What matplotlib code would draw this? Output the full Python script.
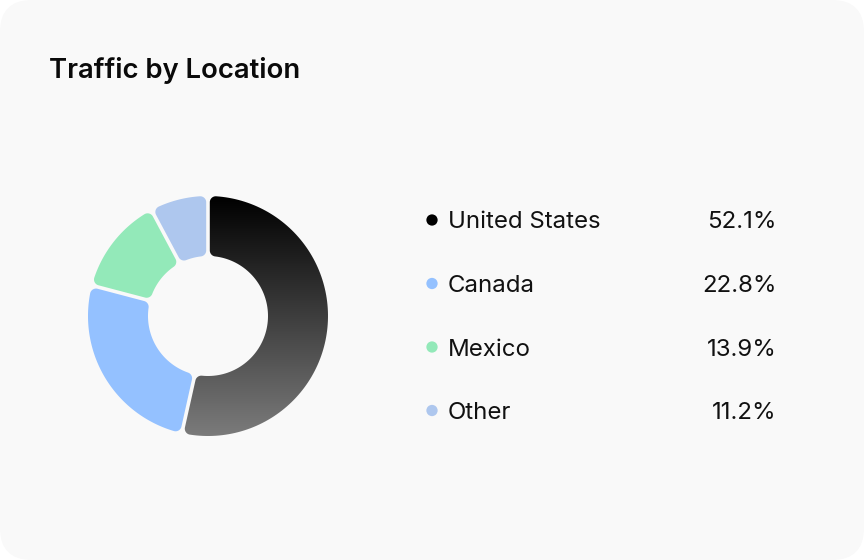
import numpy as np
import matplotlib
matplotlib.use("Agg")
import matplotlib.pyplot as plt
from matplotlib.patches import FancyBboxPatch, Polygon
from matplotlib.colors import LinearSegmentedColormap

# ---- data ----
title = "Traffic by Location"
categories = ["United States", "Canada", "Mexico", "Other"]
pct_labels = ["52.1%", "22.8%", "13.9%", "11.2%"]
# slice shares as drawn in the reference donut
slice_values = [53.5, 25.6, 13.1, 7.8]
colors = ["#000000", "#94C1FF", "#93E9B9", "#AEC7EE"]

W, H = 864, 560
fig = plt.figure(figsize=(W / 100, H / 100), dpi=100)
fig.patch.set_facecolor("white")

# overlay axes in pixel coordinates (card, title, legend)
lax = fig.add_axes([0, 0, 1, 1])
lax.set_xlim(0, W)
lax.set_ylim(H, 0)
lax.axis("off")
card = FancyBboxPatch((0, 0), W, H, boxstyle="round,pad=0,rounding_size=32",
                      facecolor="#F9F9F9", edgecolor="none", zorder=0)
lax.add_patch(card)

FONT = ["Inter", "DejaVu Sans"]
lax.text(49, 78, title, fontsize=19.8, fontweight="semibold", family=FONT,
         color="#0A0A0A", ha="left", va="baseline", zorder=3)

row_baselines = [228.5, 292, 355.5, 419]
for i, (cat, lab, col) in enumerate(zip(categories, pct_labels, colors)):
    yb = row_baselines[i]
    lax.scatter([432], [yb - 8.5], s=66, color=col, edgecolors="none", zorder=3)
    lax.text(448, yb, cat, fontsize=17.3, family=FONT, color="#111111",
             ha="left", va="baseline", zorder=3)
    lax.text(776.5, yb, lab, fontsize=17.3, family=FONT, color="#111111",
             ha="right", va="baseline", zorder=3)

# donut axes: centre (208,316) px, outer radius 120 px
cx, cy, Rpx = 208, 316, 120
dax = fig.add_axes([(cx - Rpx) / W, (H - cy - Rpx) / H, 2 * Rpx / W, 2 * Rpx / H])
dax.set_xlim(-1, 1)
dax.set_ylim(-1, 1)
dax.set_aspect("equal")
dax.axis("off")
dax.patch.set_alpha(0)

R, r = 1.0, 0.5
gap = 3.6 / Rpx
cr = 6.0 / Rpx


def arc(c, rad, t0, t1, n=40):
    t = np.linspace(t0, t1, n)
    return np.column_stack([c[0] + rad * np.cos(t), c[1] + rad * np.sin(t)])


def rounded_sector(a1, a2):
    h = gap / 2 + cr
    Ro, Ri = R - cr, r + cr
    t1o = a1 + np.arcsin(h / Ro)
    t2o = a2 - np.arcsin(h / Ro)
    t1i = a1 + np.arcsin(h / Ri)
    t2i = a2 - np.arcsin(h / Ri)
    V1o = np.array([Ro * np.cos(t1o), Ro * np.sin(t1o)])
    V2o = np.array([Ro * np.cos(t2o), Ro * np.sin(t2o)])
    V1i = np.array([Ri * np.cos(t1i), Ri * np.sin(t1i)])
    V2i = np.array([Ri * np.cos(t2i), Ri * np.sin(t2i)])
    parts = [
        arc((0, 0), R, t1o, t2o, 120),
        arc(V2o, cr, t2o, a2 + np.pi / 2),
        arc(V2i, cr, a2 + np.pi / 2, t2i + np.pi),
        arc((0, 0), r, t2i, t1i, 80),
        arc(V1i, cr, t1i + np.pi, a1 + 1.5 * np.pi),
        arc(V1o, cr, a1 - np.pi / 2, t1o),
    ]
    return np.vstack(parts)


vals = np.array(slice_values, dtype=float)
fr = vals / vals.sum()
cum = np.concatenate([[0], np.cumsum(fr)])
start = np.pi / 2
grad_cmap = LinearSegmentedColormap.from_list("g", ["#000000", "#7B7B7B"])
for i in range(len(vals)):
    a2 = start - 2 * np.pi * cum[i]
    a1 = start - 2 * np.pi * cum[i + 1]
    pts = rounded_sector(a1, a2)
    if i == 0:
        poly = Polygon(pts, closed=True, facecolor="none", edgecolor="none")
        dax.add_patch(poly)
        grad = np.linspace(0, 1, 256).reshape(-1, 1)
        im = dax.imshow(grad, cmap=grad_cmap, extent=[-1, 1, -1, 1],
                        origin="upper", aspect="auto", zorder=2,
                        interpolation="bilinear")
        im.set_clip_path(poly)
    else:
        poly = Polygon(pts, closed=True, facecolor=colors[i], edgecolor="none",
                       zorder=2)
        dax.add_patch(poly)

dax.set_xlim(-1, 1)
dax.set_ylim(-1, 1)
fig.savefig("out.png", dpi=100, facecolor="white")
